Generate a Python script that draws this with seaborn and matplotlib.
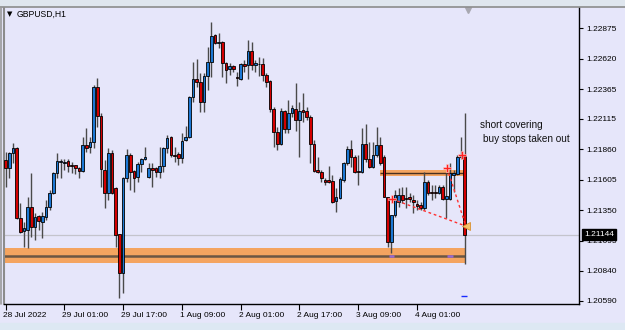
import numpy as np
import pandas as pd
import matplotlib
matplotlib.use("Agg")
import matplotlib.pyplot as plt
import matplotlib.transforms as mtransforms
from matplotlib.lines import Line2D
from matplotlib.patches import Rectangle
import seaborn as sns

# ---------------- data (GBPUSD, H1) ----------------
times = pd.DatetimeIndex(list(pd.date_range("2022-07-28 09:00", "2022-07-29 23:00", freq="h")) +
                         list(pd.date_range("2022-08-01 00:00", "2022-08-04 14:00", freq="h")))

opens = [1.21770, 1.21703, 1.21829, 1.21870, 1.21283, 1.21174, 1.21182, 1.21375, 1.21207, 1.21300,
         1.21249, 1.21291, 1.21375, 1.21493, 1.21661, 1.21753, 1.21745, 1.21762, 1.21728, 1.21728,
         1.21703, 1.21678, 1.21895, 1.21879, 1.21920, 1.22382, 1.22139, 1.21686, 1.21493, 1.21829,
         1.21535, 1.21148, 1.20822, 1.21619, 1.21812, 1.21678, 1.21627, 1.21736, 1.21778, 1.21627,
         1.21703, 1.21703, 1.21669, 1.21720, 1.21870, 1.21962, 1.21812, 1.21820, 1.21787, 1.21937,
         1.21962, 1.22298, 1.22449, 1.22424, 1.22256, 1.22474, 1.22592, 1.22818, 1.22751, 1.22760,
         1.22583, 1.22533, 1.22558, 1.22466, 1.22449, 1.22575, 1.22567, 1.22684, 1.22567, 1.22575,
         1.22575, 1.22483, 1.22433, 1.22197, 1.22004, 1.21903, 1.22181, 1.22029, 1.22164, 1.22197,
         1.22105, 1.22189, 1.22181, 1.22130, 1.21903, 1.21686, 1.21669, 1.21602, 1.21602, 1.21594,
         1.21426, 1.21451, 1.21602, 1.21745, 1.21862, 1.21795, 1.21678, 1.21669, 1.21903, 1.21778,
         1.21711, 1.21812, 1.21895, 1.21795, 1.21459, 1.21081, 1.21308, 1.21417, 1.21476, 1.21451,
         1.21459, 1.21434, 1.21401, 1.21392, 1.21367, 1.21585, 1.21501, 1.21501, 1.21493, 1.21543,
         1.21443, 1.21443, 1.21644, 1.21652, 1.21795, 1.21803]
highs = [1.21837, 1.21837, 1.21912, 1.21879, 1.21409, 1.21249, 1.21459, 1.21661, 1.21325, 1.21308,
         1.21333, 1.21434, 1.21518, 1.21669, 1.21829, 1.21778, 1.21778, 1.21778, 1.21753, 1.21732,
         1.21711, 1.21962, 1.22038, 1.21962, 1.22399, 1.22458, 1.22164, 1.21770, 1.21870, 1.21854,
         1.21543, 1.21148, 1.21627, 1.21862, 1.21829, 1.21686, 1.21753, 1.21787, 1.21879, 1.21745,
         1.21745, 1.21711, 1.21879, 1.21879, 1.21979, 1.21971, 1.21879, 1.21837, 1.21996, 1.22054,
         1.22307, 1.22592, 1.22617, 1.22500, 1.22500, 1.22718, 1.22927, 1.22827, 1.22835, 1.22768,
         1.22592, 1.22583, 1.22567, 1.22508, 1.22583, 1.22609, 1.22776, 1.22760, 1.22609, 1.22634,
         1.22625, 1.22500, 1.22441, 1.22214, 1.22046, 1.22206, 1.22189, 1.22273, 1.22231, 1.22416,
         1.22256, 1.22332, 1.22214, 1.22147, 1.21937, 1.21795, 1.21686, 1.21619, 1.21720, 1.21644,
         1.21535, 1.21627, 1.21753, 1.21887, 1.21937, 1.21812, 1.21812, 1.22038, 1.22071, 1.21920,
         1.21920, 1.22046, 1.21962, 1.21812, 1.21459, 1.21308, 1.21518, 1.21535, 1.21543, 1.21543,
         1.21493, 1.21476, 1.21434, 1.21417, 1.21669, 1.21602, 1.21560, 1.21560, 1.21560, 1.21560,
         1.21661, 1.21745, 1.21686, 1.21812, 1.21962, 1.22164]
lows = [1.21543, 1.21619, 1.21745, 1.21274, 1.21157, 1.21039, 1.21031, 1.21123, 1.21098, 1.21182,
        1.21115, 1.21266, 1.21350, 1.21485, 1.21619, 1.21619, 1.21686, 1.21669, 1.21661, 1.21652,
        1.21619, 1.21669, 1.21837, 1.21829, 1.21870, 1.22046, 1.21543, 1.21367, 1.21434, 1.21485,
        1.21039, 1.20612, 1.20654, 1.21585, 1.21518, 1.21501, 1.21585, 1.21669, 1.21770, 1.21619,
        1.21543, 1.21627, 1.21619, 1.21669, 1.21829, 1.21795, 1.21753, 1.21728, 1.21745, 1.21929,
        1.21954, 1.22256, 1.22382, 1.22172, 1.22172, 1.22357, 1.22466, 1.22743, 1.22709, 1.22466,
        1.22416, 1.22483, 1.22508, 1.22391, 1.22441, 1.22508, 1.22449, 1.22525, 1.22508, 1.22474,
        1.22433, 1.22382, 1.22172, 1.21879, 1.21854, 1.21895, 1.21996, 1.21996, 1.22130, 1.22012,
        1.21795, 1.22088, 1.22105, 1.21745, 1.21669, 1.21661, 1.21585, 1.21560, 1.21577, 1.21409,
        1.21333, 1.21443, 1.21585, 1.21728, 1.21711, 1.21661, 1.21560, 1.21661, 1.21753, 1.21703,
        1.21703, 1.21795, 1.21728, 1.21459, 1.21039, 1.20989, 1.21291, 1.21375, 1.21409, 1.21367,
        1.21417, 1.21325, 1.21350, 1.21350, 1.21350, 1.21476, 1.21434, 1.21451, 1.21485, 1.21434,
        1.21283, 1.21434, 1.21501, 1.21644, 1.21778, 1.20897]
closes = [1.21703, 1.21829, 1.21870, 1.21283, 1.21165, 1.21199, 1.21375, 1.21207, 1.21291, 1.21258,
          1.21300, 1.21375, 1.21493, 1.21661, 1.21762, 1.21758, 1.21753, 1.21720, 1.21720, 1.21703,
          1.21678, 1.21895, 1.21870, 1.21920, 1.22382, 1.22139, 1.21694, 1.21493, 1.21829, 1.21493,
          1.21140, 1.20822, 1.21619, 1.21812, 1.21669, 1.21619, 1.21736, 1.21778, 1.21795, 1.21703,
          1.21686, 1.21669, 1.21720, 1.21870, 1.21954, 1.21812, 1.21803, 1.21787, 1.21929, 1.21962,
          1.22298, 1.22449, 1.22424, 1.22256, 1.22474, 1.22592, 1.22810, 1.22751, 1.22760, 1.22583,
          1.22525, 1.22558, 1.22533, 1.22458, 1.22575, 1.22558, 1.22684, 1.22567, 1.22583, 1.22579,
          1.22483, 1.22424, 1.22197, 1.22004, 1.21903, 1.22181, 1.22029, 1.22164, 1.22206, 1.22105,
          1.22181, 1.22172, 1.22130, 1.21903, 1.21678, 1.21669, 1.21619, 1.21585, 1.21585, 1.21417,
          1.21459, 1.21610, 1.21745, 1.21862, 1.21795, 1.21669, 1.21669, 1.21903, 1.21778, 1.21711,
          1.21812, 1.21895, 1.21745, 1.21459, 1.21081, 1.21308, 1.21476, 1.21476, 1.21434, 1.21443,
          1.21443, 1.21417, 1.21384, 1.21367, 1.21585, 1.21493, 1.21493, 1.21493, 1.21543, 1.21443,
          1.21468, 1.21661, 1.21661, 1.21795, 1.21812, 1.21144]

price_ticks = [1.22875, 1.22620, 1.22365, 1.22115, 1.21860, 1.21605, 1.21350, 1.21095, 1.20840, 1.20590]
time_ticks = ["2022-07-28 09:00", "2022-07-29 01:00", "2022-07-29 17:00", "2022-08-01 09:00",
              "2022-08-02 01:00", "2022-08-02 17:00", "2022-08-03 09:00", "2022-08-04 01:00"]
time_labels = ["28 Jul 2022", "29 Jul 01:00", "29 Jul 17:00", "1 Aug 09:00",
               "2 Aug 01:00", "2 Aug 17:00", "3 Aug 09:00", "4 Aug 01:00"]

current_price = 1.21144
support_zone = (1.20904, 1.21029)
support_line = 1.20964
resist_zone = (1.21636, 1.21686)
resist_line = 1.21661
resist_start = "2022-08-03 15:00"
marker_times = ["2022-08-03 18:00", "2022-08-04 09:00", "2022-08-04 13:00"]
marker_prices = [1.21443, 1.21703, 1.21812]
arrow_price = 1.21216
purple_times = ["2022-08-03 18:00", "2022-08-04 10:00"]
blue_dash_price = 1.20629

# ---------------- styling ----------------
sns.set_theme(style="white")
plt.rcParams["font.family"] = ["Liberation Sans", "DejaVu Sans"]

BG = "#E6E6FA"
fig = plt.figure(figsize=(6.25, 3.3), dpi=100)
fig.patch.set_facecolor(BG)
ax = fig.add_axes([4 / 625, 1 - 304 / 330, 575 / 625, 298 / 330])
ax.set_facecolor(BG)

df = pd.DataFrame({"time": times, "open": opens, "high": highs, "low": lows, "close": closes})
df["x"] = np.arange(len(df))
pos = {t: i for i, t in enumerate(df["time"])}
def tx(s):
    return pos[pd.Timestamp(s)]

n = len(df)
ax.set_xlim(-0.41, 156.1)
ax.set_ylim(1.205624, 1.230621)

# horizontal zones
ax.axhspan(support_zone[0], support_zone[1], xmin=0, xmax=(n - 1 + 0.1 + 0.41) / (156.1 + 0.41),
           color="#F4A460", lw=0, zorder=1)
ax.hlines(support_line, -0.41, n - 1 + 0.1, color="#6b5644", lw=1.8, zorder=1.5)
ax.add_patch(Rectangle((tx(resist_start) - 0.2, resist_zone[0]), n - 1 + 0.1 - tx(resist_start) + 0.2,
                       resist_zone[1] - resist_zone[0], color="#F4A460", lw=0, zorder=1))
ax.hlines(resist_line, tx(resist_start) - 0.2, n - 1 + 0.1, color="#4a3020", lw=1.0, zorder=1.5)

# current price line
ax.axhline(current_price, color="#c4c4cc", lw=0.9, zorder=0.8)

# candles
bull = df["close"] >= df["open"]
ax.vlines(df["x"], df["low"], df["high"], color="#4a4a4a", lw=1.0, zorder=2)
body_lo = np.minimum(df["open"], df["close"])
body_h = np.maximum(np.abs(df["close"] - df["open"]), 0.00002)
colors = np.where(bull, "#1c78d4", "#d40000")
ax.bar(df["x"], body_h, bottom=body_lo, width=0.72, color=colors, edgecolor="black",
       linewidth=0.6, zorder=3)

# purple marks on support line
for t in purple_times:
    ax.hlines(support_line, tx(t) - 0.7, tx(t) + 0.7, color="#9a6ad0", lw=1.8, zorder=1.7)

# blue dash
ax.hlines(blue_dash_price, n - 2, n - 0.4, color="#1a2cff", lw=1.0, zorder=3)

# dotted red lines to arrow
ax_x_arrow = n - 1 + 0.3
for t, p in zip(marker_times[:2], marker_prices[:2]):
    ax.plot([tx(t) + 0.2, ax_x_arrow], [p, arrow_price], color="#ff3030", lw=1.0,
            ls=(0, (2, 2)), zorder=4)

mk = pd.DataFrame({"x": [tx(t) + 0.2 for t in marker_times], "price": marker_prices})
sns.scatterplot(data=mk, x="x", y="price", ax=ax, marker="P", s=28, color="#ff2020",
                edgecolor="#ffd0d0", linewidth=0.4, zorder=5, legend=False)
ax.plot([ax_x_arrow], [arrow_price], marker="<", ms=6, color="#f5c46a", mec="#d89030",
        mew=0.6, zorder=5)

# annotations
ax.text(129.1, 1.22068, "short covering", fontsize=7.2, color="#111111", va="center", ha="left")
ax.text(130.0, 1.21946, "buy stops taken out", fontsize=7.2, color="#111111", va="center", ha="left")

# axes / ticks
ax.set_xlabel("")
ax.set_ylabel("")
ax.yaxis.tick_right()
ax.set_yticks(price_ticks)
ax.set_yticklabels([f"{v:.5f}" for v in price_ticks])
ax.tick_params(axis="y", right=True, left=False, length=3, width=0.8, pad=2.5,
               labelsize=6, colors="black", direction="out")
ax.set_xticks([tx(t) for t in time_ticks])
ax.set_xticklabels(time_labels, ha="left")
ax.tick_params(axis="x", bottom=True, length=4, width=0.8, pad=1.5, labelsize=6,
               colors="black", direction="out")
offset = mtransforms.ScaledTranslation(-1.5 / 72, 0, fig.dpi_scale_trans)
for lab in ax.get_xticklabels():
    lab.set_transform(lab.get_transform() + offset)

for side in ["right", "bottom"]:
    ax.spines[side].set_color("black")
    ax.spines[side].set_linewidth(1.0)
ax.spines["top"].set_visible(False)
ax.spines["left"].set_color("#8c8c8c")
ax.spines["left"].set_linewidth(1.5)

# price tag
trans = mtransforms.blended_transform_factory(ax.transAxes, ax.transData)
ax.text(1.0085, current_price, "1.21144", transform=trans, fontsize=6, color="white",
        va="center", ha="left", zorder=10, clip_on=False,
        bbox=dict(boxstyle="square,pad=0.25", fc="black", ec="black"))

# chart-shift marker at top
ax.plot([n - 0.1], [0.985], transform=mtransforms.blended_transform_factory(ax.transData, ax.transAxes),
        marker="v", ms=4.5, color="#a8a8b0", clip_on=False, zorder=6)

# window decoration
fig.patches.append(Rectangle((0, 1 - 6 / 330), 1, 6 / 330, transform=fig.transFigure,
                             color="#dfe6ee", zorder=0))
fig.lines.append(Line2D([0, 1], [1 - 6.5 / 330] * 2, transform=fig.transFigure, color="#8c8c8c", lw=1.2))
fig.lines.append(Line2D([1.2 / 625] * 2, [1 - 304 / 330, 1 - 6.5 / 330], transform=fig.transFigure,
                        color="#9a9a9a", lw=1.2))
fig.patches.append(Rectangle((0, 0), 1, 7 / 330, transform=fig.transFigure,
                             color="#dde8f3", zorder=0))

# title
fig.text(7 / 625, 1 - 14 / 330, "\u25bc", fontsize=5, color="black", va="center", ha="left",
         family=["DejaVu Sans"])
fig.text(17 / 625, 1 - 14 / 330, "GBPUSD,H1", fontsize=6.2, color="black", va="center", ha="left")

fig.savefig("out.png", dpi=100, facecolor=BG)
